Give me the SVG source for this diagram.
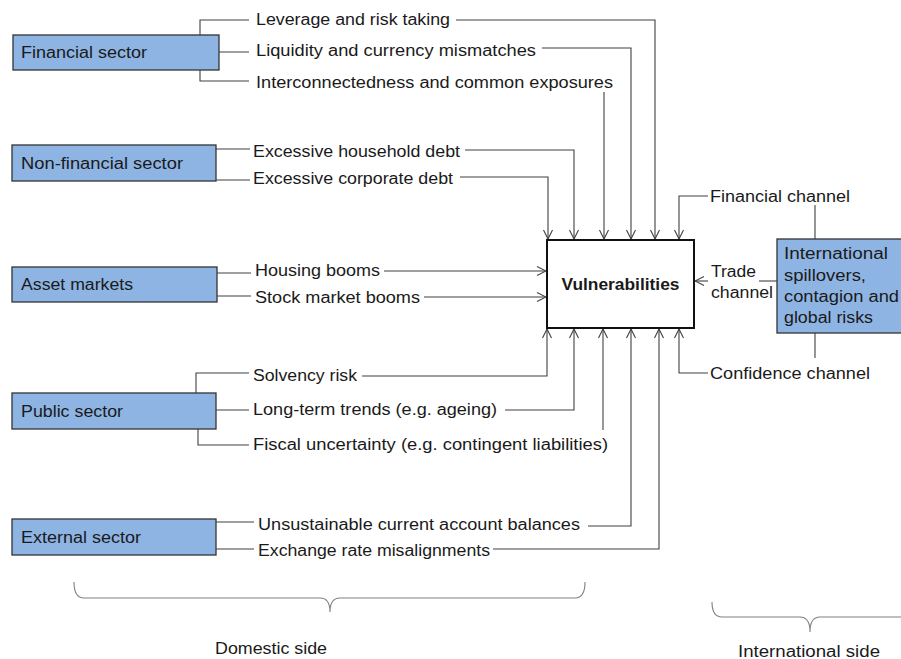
<svg xmlns="http://www.w3.org/2000/svg" width="901" height="659" viewBox="0 0 901 659">
<defs>
<marker id="arr" viewBox="0 0 10 10" refX="10" refY="5" markerWidth="10" markerHeight="10" markerUnits="userSpaceOnUse" orient="auto">
<path d="M1,0.5 L10,5 L1,9.5" fill="none" stroke="#404040" stroke-width="1.1"/>
</marker>
</defs>
<style>
text{font-family:"Liberation Sans",Arial,sans-serif;font-size:16px;fill:#1a1a1a}
.box{fill:#8EB4E3;stroke:#333;stroke-width:1.3}
.ln{fill:none;stroke:#404040;stroke-width:1.1}
.ar{fill:none;stroke:#404040;stroke-width:1.1;marker-end:url(#arr)}
.br{fill:none;stroke:#808080;stroke-width:1.1}
</style>
<rect width="901" height="659" fill="#fff"/>
<g id="financial-sector">
<rect class="box" x="13" y="35" width="206" height="35"/>
<text x="21" y="58" textLength="126" lengthAdjust="spacingAndGlyphs">Financial sector</text>
<path class="ln" d="M200,35 V20 H249 M219,52 H249 M200,70 V81 H249"/>
<text x="256" y="25" textLength="194" lengthAdjust="spacingAndGlyphs">Leverage and risk taking</text>
<text x="256" y="56" textLength="280" lengthAdjust="spacingAndGlyphs">Liquidity and currency mismatches</text>
<text x="256" y="88" textLength="357" lengthAdjust="spacingAndGlyphs">Interconnectedness and common exposures</text>
</g>
<g id="non-financial-sector">
<rect class="box" x="12" y="145" width="204" height="36"/>
<text x="21" y="169" textLength="162" lengthAdjust="spacingAndGlyphs">Non-financial sector</text>
<path class="ln" d="M216,149 H250 M216,180 H250"/>
<text x="253" y="157" textLength="207" lengthAdjust="spacingAndGlyphs">Excessive household debt</text>
<text x="253" y="184" textLength="200" lengthAdjust="spacingAndGlyphs">Excessive corporate debt</text>
</g>
<g id="asset-markets">
<rect class="box" x="12" y="267" width="205" height="35"/>
<text x="21" y="290" textLength="112" lengthAdjust="spacingAndGlyphs">Asset markets</text>
<path class="ln" d="M217,273 H251 M217,296 H251"/>
<text x="255" y="276" textLength="125" lengthAdjust="spacingAndGlyphs">Housing booms</text>
<text x="255" y="303" textLength="165" lengthAdjust="spacingAndGlyphs">Stock market booms</text>
</g>
<g id="public-sector">
<rect class="box" x="12" y="393" width="204" height="36"/>
<text x="21" y="417" textLength="102" lengthAdjust="spacingAndGlyphs">Public sector</text>
<path class="ln" d="M196,393 V373 H249 M216,410 H249 M198,429 V445 H249"/>
<text x="253" y="381" textLength="104" lengthAdjust="spacingAndGlyphs">Solvency risk</text>
<text x="253" y="415" textLength="244" lengthAdjust="spacingAndGlyphs">Long-term trends (e.g. ageing)</text>
<text x="253" y="450" textLength="355" lengthAdjust="spacingAndGlyphs">Fiscal uncertainty (e.g. contingent liabilities)</text>
</g>
<g id="external-sector">
<rect class="box" x="12" y="519" width="204" height="36"/>
<text x="21" y="543" textLength="120" lengthAdjust="spacingAndGlyphs">External sector</text>
<path class="ln" d="M216,522 H254 M216,549 H254"/>
<text x="258" y="530" textLength="322" lengthAdjust="spacingAndGlyphs">Unsustainable current account balances</text>
<text x="258" y="556" textLength="232" lengthAdjust="spacingAndGlyphs">Exchange rate misalignments</text>
</g>
<g id="vulnerabilities">
<rect x="547" y="240" width="147" height="88" fill="#fff" stroke="#111" stroke-width="2"/>
<text x="620.5" y="290" text-anchor="middle" font-weight="bold" textLength="118" lengthAdjust="spacingAndGlyphs">Vulnerabilities</text>
</g>
<g id="international">
<rect class="box" x="777" y="239" width="130" height="94"/>
<text x="784" y="259" textLength="104" lengthAdjust="spacingAndGlyphs">International</text>
<text x="784" y="281" textLength="82" lengthAdjust="spacingAndGlyphs">spillovers,</text>
<text x="784" y="302" textLength="115" lengthAdjust="spacingAndGlyphs">contagion and</text>
<text x="784" y="323" textLength="89" lengthAdjust="spacingAndGlyphs">global risks</text>
</g>
<g id="channels">
<text x="710" y="202" textLength="140" lengthAdjust="spacingAndGlyphs">Financial channel</text>
<text x="711" y="277" textLength="45" lengthAdjust="spacingAndGlyphs">Trade</text>
<text x="711" y="298" textLength="62" lengthAdjust="spacingAndGlyphs">channel</text>
<text x="710" y="379" textLength="160" lengthAdjust="spacingAndGlyphs">Confidence channel</text>
</g>
<g id="connectors">
<path class="ar" d="M456,20 H655 V239"/>
<path class="ar" d="M542,48 H631 V239"/>
<path class="ar" d="M604,92 V239"/>
<path class="ar" d="M465,150 H574 V239"/>
<path class="ar" d="M460,177 H548 V239"/>
<path class="ar" d="M708,196 H679 V239"/>
<path class="ar" d="M384,271 H546"/>
<path class="ar" d="M424,297 H546"/>
<path class="ar" d="M708,281 H695"/>
<path class="ln" d="M759,281 H777"/>
<path class="ln" d="M815,205 V239 M815,333 V358"/>
<path class="ar" d="M708,373 H679 V329"/>
<path class="ar" d="M362,376 H547 V329"/>
<path class="ar" d="M505,410 H574 V329"/>
<path class="ar" d="M603,430 V329"/>
<path class="ar" d="M588,526 H631 V329"/>
<path class="ar" d="M493,549 H659 V329"/>
</g>
<g id="domestic-side">
<path class="br" d="M74,582 Q74,598 84,598 H320 Q330,598 330,612 Q330,598 340,598 H575 Q585,598 585,582"/>
<text x="271" y="654" text-anchor="middle" textLength="112" lengthAdjust="spacingAndGlyphs">Domestic side</text>
</g>
<g id="international-side">
<path class="br" d="M712,602 Q712,617 722,617 H800 Q810,617 810,632 Q810,617 820,617 H901"/>
<text x="809" y="657" text-anchor="middle" textLength="142" lengthAdjust="spacingAndGlyphs">International side</text>
</g>
</svg>
